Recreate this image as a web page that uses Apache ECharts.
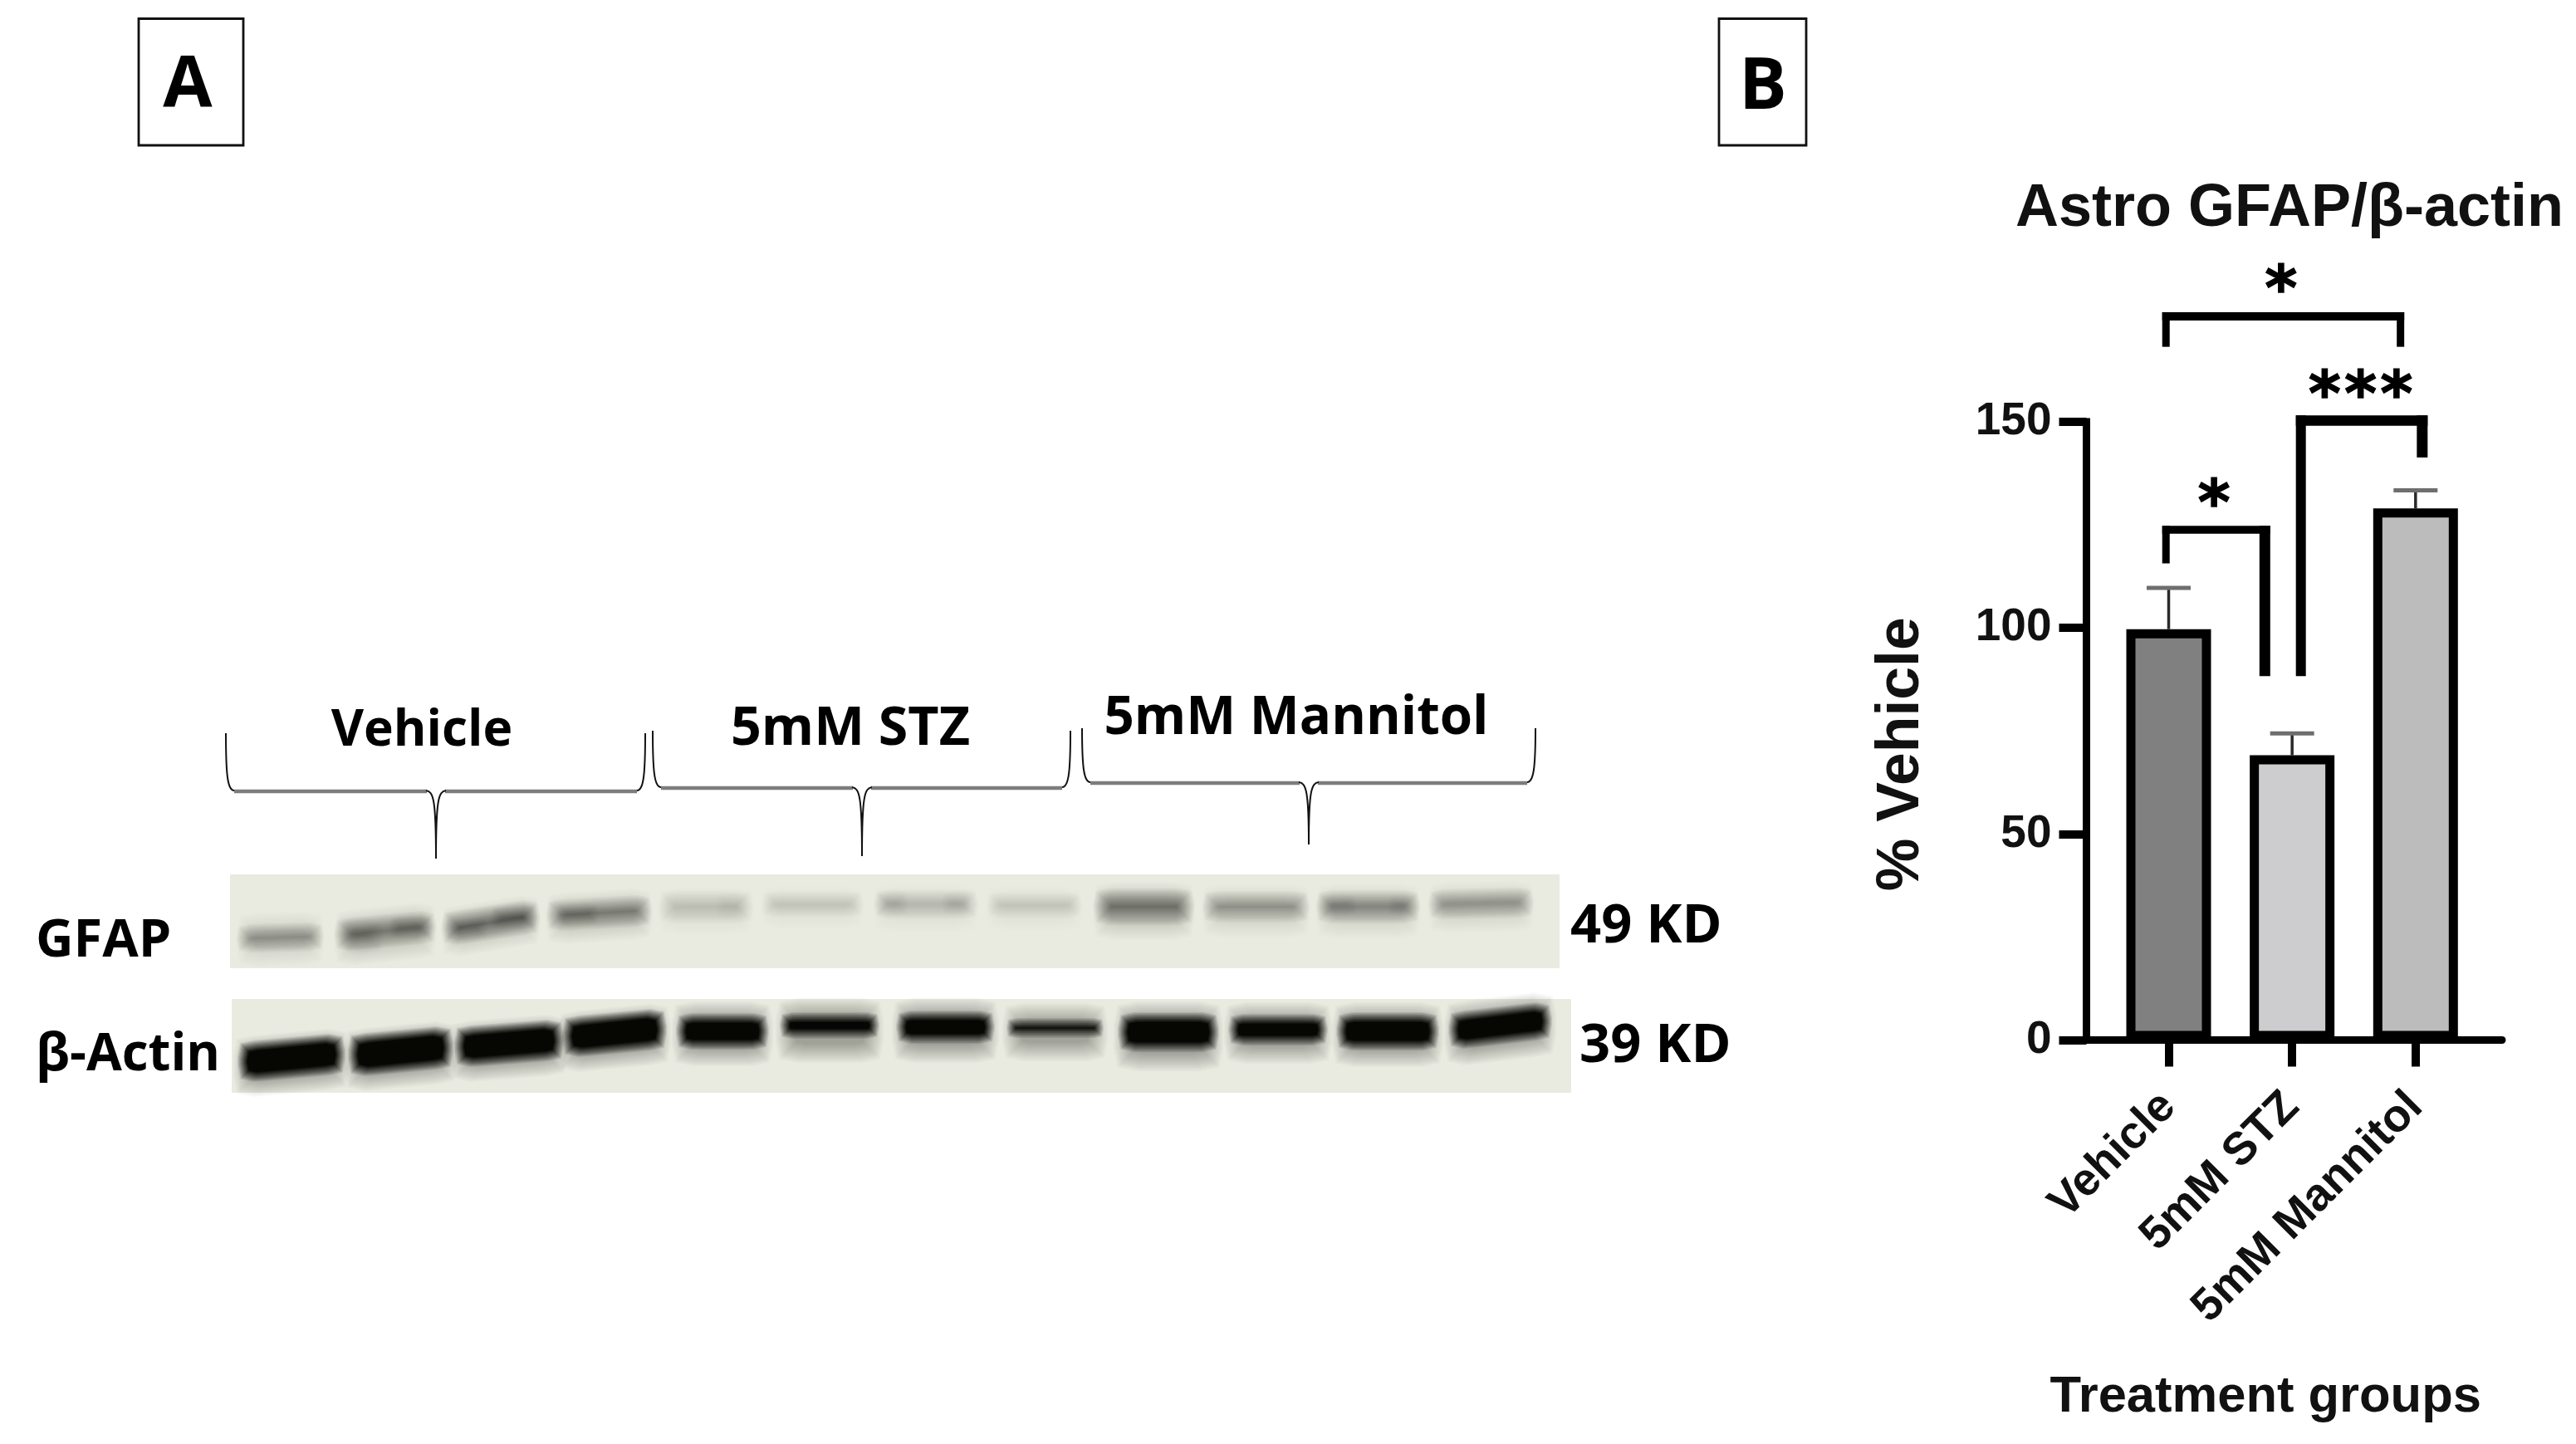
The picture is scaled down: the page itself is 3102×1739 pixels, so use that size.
<!DOCTYPE html>
<html>
<head>
<meta charset="utf-8">
<style>html,body{margin:0;padding:0;background:#fff}#c{width:3102px;height:1739px}</style>
<script src="https://cdn.jsdelivr.net/npm/echarts@6/dist/echarts.min.js"></script>
</head>
<body>
<div id="c"></div>
<script>
// ---------- Panel B data ----------
const categories = ['Vehicle', '5mM STZ', '5mM Mannitol'];
const categoryPositions = [0, 1, 2];
const meanValues = [99.7, 69.1, 129];
const errorTops = [109.7, 74.4, 133.4];
const barColors = ['#808080', '#cdcdcf', '#bcbcbc'];
const yTicks = [0, 50, 100, 150];
// significance brackets, in axis units
const sigLabels = ['*', '***', '*'];
const sigLeft = [-0.022, 1.071, -0.022];
const sigRight = [0.779, 2.054, 1.878];
const sigTop = [123.8, 150.3, 175.6];
const sigLeftFoot = [115.65, 88.3, 168.2];
const sigRightFoot = [88.3, 141.35, 168.2];
const sigTextX = [0.367, 1.555, 0.911];
const sigTextY = [133, 159.3, 184.8];

// ---------- Panel A data (gel image coordinates) ----------
const gelLeft = [277, 279];
const gelRight = [1878, 1892];
const gelTop = [1053, 1203];
const gelBottom = [1166, 1316];
const gfapStart = [295, 413, 542, 668, 803, 927, 1062, 1198, 1327, 1458, 1595, 1730];
const gfapEnd = [380, 515, 640, 775, 897, 1030, 1168, 1293, 1428, 1567, 1700, 1837];
const gfapYL = [1130, 1125, 1117, 1102, 1092, 1089, 1089, 1090, 1092, 1092, 1092, 1089];
const gfapYR = [1128, 1117, 1105, 1097, 1092, 1089, 1089, 1090, 1092, 1092, 1092, 1087];
const gfapThick = [15, 20, 22, 18, 20, 12, 16, 12, 24, 18, 20, 17];
const gfapDensity = [.36, .4, .44, .4, .14, .12, .17, .13, .42, .32, .36, .34];
const gfapHalo = [44, 46, 40, 40, 36, 30, 36, 32, 48, 42, 44, 40];
const gfapHaloShift = [2, 4, 4, 4, 5, 4, 5, 4, 5, 5, 5, 4];
const spotStart = [478, 420, 600, 545, 680, 1063, 1143, 870, 1595, 1680];
const spotEnd = [512, 452, 638, 578, 712, 1085, 1160, 892, 1625, 1700];
const spotYL = [1117, 1127, 1105, 1119, 1102, 1088, 1088, 1091, 1090, 1090];
const spotYR = [1116, 1127, 1104, 1118, 1101, 1088, 1088, 1091, 1090, 1090];
const spotThick = [9, 22, 10, 8, 9, 12, 10, 14, 8, 8];
const spotDensity = [.22, .12, .24, .16, .2, .08, .08, .06, .1, .1];
const actinStart = [292, 425, 553, 683, 820, 945, 1085, 1218, 1352, 1485, 1615, 1750];
const actinEnd = [410, 540, 673, 797, 920, 1053, 1192, 1323, 1462, 1593, 1727, 1863];
const actinYL = [1278, 1270, 1260, 1248, 1242, 1235, 1237, 1238, 1243, 1240, 1242, 1240];
const actinYR = [1270, 1262, 1253, 1240, 1242, 1235, 1237, 1238, 1243, 1240, 1242, 1230];
const actinThick = [38, 40, 38, 38, 32, 20, 28, 12, 36, 26, 34, 34];
const actinDensity = [1, 1, 1, 1, 1, .99, 1, .97, 1, 1, 1, 1];
const actinHalo = [52, 54, 52, 52, 56, 56, 56, 48, 62, 52, 56, 56];
const actinHaloShift = [6, 6, 6, 6, 3, 6, 4, 5, 5, 4, 4, 4];
const braceLeft = [272, 786, 1303];
const braceRight = [777, 1289, 1849];
const braceTip = [525, 1038, 1576];
const braceTop = [883, 880, 877];
const braceBar = [953, 949, 943];
const braceTipY = [1034, 1031, 1017];

// ---------- Render helpers ----------
const sigWidths = [[9, 13, 9.5], [12, 13, 12.5], [9, 9, 10]];
const layers = 12;
function chamfer(api, x0, x1, yL, yR, th, e, c, style) {
  const t = th / 2 + e;
  const k = c * .17;
  const pts = [
    [x0 - e, yL - t + c], [x0 - e + k, yL - t + k], [x0 - e + c, yL - t], [x1 + e - c, yR - t], [x1 + e - k, yR - t + k], [x1 + e, yR - t + c],
    [x1 + e, yR + t - c], [x1 + e - k, yR + t - k], [x1 + e - c, yR + t], [x0 - e + c, yL + t], [x0 - e + k, yL + t - k], [x0 - e, yL + t - c]
  ].map(p => api.coord(p));
  return { type: 'polygon', shape: { points: pts }, style };
}
function bandItem(params, api) {
  const v = i => api.value(i);
  const x0 = v(0), x1 = v(1), yL = v(2), yR = v(3), th = v(4), d = v(5), halo = v(6), shift = v(7);
  const kids = [];
  const put = (sh, thick, density, spread) => {
    let prev = 0;
    for (let i = 0; i < layers; i++) {
      const e = spread - 2 * spread * i / (layers - 1);
      if (thick / 2 + e <= 0.5) continue;
      const target = Math.min(density, .995) * (i + 1) / layers;
      const a = 1 - (1 - target) / (1 - prev);
      prev = target;
      const c = Math.max(1, Math.min((thick / 2 + e) * .9, 8 + thick * .22 + e * .5));
      kids.push(chamfer(api, x0, x1, yL + sh, yR + sh, thick, e, c, { fill: '#050503', opacity: a }));
    }
  };
  if (halo > 0) put(shift, halo, d * .3, 11);
  put(0, th, d, d > .9 ? 6 : 9 + th * .05);
  return { type: 'group', children: kids };
}
function gelItem(params, api) {
  const a = api.coord([api.value(0), api.value(2)]);
  const b = api.coord([api.value(1), api.value(3)]);
  return { type: 'rect', shape: { x: a[0], y: a[1], width: b[0] - a[0], height: b[1] - a[1] }, style: { fill: '#e9ebe0' } };
}
function braceItem(params, api) {
  const L = api.value(0), R = api.value(1), M = api.value(2), T = api.value(3), B = api.value(4), E = api.value(5);
  const P = (x, y) => api.coord([x, y]);
  const curve = (a, c1, c2, b) => {
    const A = P(a[0], a[1]), C = P(c1[0], c1[1]), D = P(c2[0], c2[1]), F = P(b[0], b[1]);
    return { type: 'bezierCurve', shape: { x1: A[0], y1: A[1], cpx1: C[0], cpy1: C[1], cpx2: D[0], cpy2: D[1], x2: F[0], y2: F[1] }, style: { stroke: '#111', lineWidth: 2, fill: null } };
  };
  const bar = (a, b) => {
    const A = P(a, B), F = P(b, B);
    return { type: 'line', shape: { x1: A[0], y1: A[1], x2: F[0], y2: F[1] }, style: { stroke: '#7d7d7d', lineWidth: 4.5 } };
  };
  return { type: 'group', children: [
    bar(L + 10, M - 11), bar(M + 11, R - 10),
    curve([L, T], [L, B - 20], [L + 2, B - 1], [L + 10, B - 1]),
    curve([R, T], [R, B - 20], [R - 2, B - 1], [R - 10, B - 1]),
    curve([M - 12, B - 1], [M - 3, B], [M, B + 10], [M, E]),
    curve([M + 12, B - 1], [M + 3, B], [M, B + 10], [M, E])
  ] };
}
function errorItem(params, api) {
  const x = api.value(0), top = api.coord([x, api.value(1)]), base = api.coord([x, api.value(2)]);
  return { type: 'group', children: [
    { type: 'line', shape: { x1: top[0], y1: top[1], x2: base[0], y2: base[1] }, style: { stroke: '#2a2a2a', lineWidth: 3.5 } },
    { type: 'line', shape: { x1: top[0] - 26.5, y1: top[1], x2: top[0] + 26.5, y2: top[1] }, style: { stroke: '#6e6e6e', lineWidth: 5 } }
  ] };
}
function sigItem(params, api) {
  const i = params.dataIndex, w = sigWidths[i];
  const lx = api.coord([api.value(0), 0])[0], rx = api.coord([api.value(1), 0])[0];
  const ty = api.coord([0, api.value(2)])[1], ly = api.coord([0, api.value(3)])[1], ry = api.coord([0, api.value(4)])[1];
  const rect = (x, y, W, H) => ({ type: 'rect', shape: { x, y, width: W, height: H }, style: { fill: '#000' } });
  const tx = api.coord([sigTextX[i], sigTextY[i]]);
  const glyphs = sigLabels[i].split('').map((g, k, arr) => ({
    type: 'text',
    style: { text: g, x: tx[0] + (k - (arr.length - 1) / 2) * 43.3, y: tx[1] + 19, align: 'center', verticalAlign: 'middle', fontFamily: 'DejaVu Sans', fontWeight: 'bold', fontSize: 74, fill: '#000', stroke: '#000', lineWidth: 1.5 }
  }));
  return { type: 'group', children: [
    rect(lx - w[0] / 2, ty - w[2] / 2, w[0], ly - ty + w[2] / 2),
    rect(rx - w[1] / 2, ty - w[2] / 2, w[1], ry - ty + w[2] / 2),
    rect(lx - w[0] / 2, ty - w[2] / 2, rx - lx + (w[0] + w[1]) / 2, w[2])
  ].concat(glyphs) };
}
const zip = (...a) => a[0].map((_, i) => a.map(x => x[i]));
const noHalo = spotStart.map(() => 0);
const leftText = (text, x, y, size, align) => ({
  type: 'text', silent: true,
  style: { text, x, y, align: align || 'left', verticalAlign: 'middle', fontFamily: 'Open Sans', fontWeight: 'bold', fontSize: size, fill: '#000' }
});
const box = (x, y, w, h) => ({ type: 'rect', shape: { x, y, width: w, height: h }, style: { fill: 'none', stroke: '#111', lineWidth: 2.8 } });

const option = {
  backgroundColor: '#fff',
  animation: false,
  title: {
    text: 'Astro GFAP/\u03b2-actin', left: 2752, top: 211, textAlign: 'center',
    textStyle: { fontFamily: 'Liberation Sans', fontWeight: 'bold', fontSize: 72, color: '#111' }
  },
  grid: [
    { left: 2512.5, top: 508, width: 500.5, height: 744.5, containLabel: false },
    { left: 0, top: 0, width: 3102, height: 1739 }
  ],
  xAxis: [
    {
      type: 'value', gridIndex: 0, min: -0.666, max: 2.701, splitLine: { show: false },
      name: 'Treatment groups', nameLocation: 'middle', nameGap: 400,
      nameTextStyle: { fontFamily: 'Liberation Sans', fontWeight: 'bold', fontSize: 61.5, color: '#111', padding: [0, 69, 0, 0] },
      axisLine: { show: true, onZero: false, lineStyle: { color: '#000', width: 9 } },
      axisTick: { show: true, length: 32, customValues: categoryPositions, lineStyle: { color: '#000', width: 10 } },
      axisLabel: {
        customValues: categoryPositions, rotate: 45, margin: 72, interval: 0,
        formatter: v => categories[Math.round(v)] || '',
        fontFamily: 'Liberation Sans', fontWeight: 'bold', fontSize: 55, color: '#111'
      }
    },
    { type: 'value', gridIndex: 1, min: 0, max: 3102, show: false }
  ],
  yAxis: [
    {
      type: 'value', gridIndex: 0, min: 0, max: 150, interval: 50, splitLine: { show: false },
      name: '% Vehicle', nameLocation: 'middle', nameGap: 186, nameRotate: 90,
      nameTextStyle: { fontFamily: 'Liberation Sans', fontWeight: 'bold', fontSize: 71.5, color: '#111', padding: [0, 56, 0, 0] },
      axisLine: { show: true, onZero: false, lineStyle: { color: '#000', width: 9, cap: 'square' } },
      axisTick: { show: true, length: 33, lineStyle: { color: '#000', width: 10 } },
      axisLabel: { margin: 42, fontFamily: 'Liberation Sans', fontWeight: 'bold', fontSize: 55, color: '#111', customValues: yTicks }
    },
    { type: 'value', gridIndex: 1, min: 0, max: 1739, inverse: true, show: false }
  ],
  series: [
    { type: 'custom', name: 'gel', xAxisIndex: 1, yAxisIndex: 1, coordinateSystem: 'cartesian2d', renderItem: gelItem, data: zip(gelLeft, gelRight, gelTop, gelBottom), z: 1, silent: true },
    { type: 'custom', name: 'GFAP', xAxisIndex: 1, yAxisIndex: 1, renderItem: bandItem, data: zip(gfapStart, gfapEnd, gfapYL, gfapYR, gfapThick, gfapDensity, gfapHalo, gfapHaloShift), z: 2, silent: true },
    { type: 'custom', name: 'GFAP spots', xAxisIndex: 1, yAxisIndex: 1, renderItem: bandItem, data: zip(spotStart, spotEnd, spotYL, spotYR, spotThick, spotDensity, noHalo, noHalo), z: 2, silent: true },
    { type: 'custom', name: '\u03b2-Actin', xAxisIndex: 1, yAxisIndex: 1, renderItem: bandItem, data: zip(actinStart, actinEnd, actinYL, actinYR, actinThick, actinDensity, actinHalo, actinHaloShift), z: 2, silent: true },
    { type: 'custom', name: 'braces', xAxisIndex: 1, yAxisIndex: 1, renderItem: braceItem, data: zip(braceLeft, braceRight, braceTip, braceTop, braceBar, braceTipY), z: 3, silent: true },
    {
      type: 'bar', name: 'Astro GFAP/\u03b2-actin', xAxisIndex: 0, yAxisIndex: 0, barWidth: 102, z: 4, silent: true,
      data: meanValues.map((v, i) => ({
        value: [categoryPositions[i], v],
        itemStyle: { color: barColors[i], borderColor: '#000', borderWidth: 11 }
      }))
    },
    { type: 'custom', name: 'error', xAxisIndex: 0, yAxisIndex: 0, renderItem: errorItem, data: zip(categoryPositions, errorTops, meanValues), z: 3, silent: true },
    { type: 'custom', name: 'significance', xAxisIndex: 0, yAxisIndex: 0, renderItem: sigItem, data: zip(sigLeft, sigRight, sigTop, sigLeftFoot, sigRightFoot), z: 5, silent: true, clip: false }
  ],
  graphic: { elements: [
    box(167, 22.5, 126, 152.5),
    box(2070, 22.5, 105, 152.5),
    leftText('A', 226, 104, 86, 'center'),
    leftText('B', 2123, 106, 86, 'center'),
    leftText('Vehicle', 508, 881, 60.5, 'center'),
    leftText('5mM STZ', 1024, 879, 64.5, 'center'),
    leftText('5mM Mannitol', 1561, 866, 63.6, 'center'),
    leftText('GFAP', 43, 1134, 63),
    leftText('\u03b2-Actin', 43, 1271, 62),
    leftText('49 KD', 1891, 1116, 65),
    leftText('39 KD', 1902, 1260, 65)
  ] }
};
const chart = echarts.init(document.getElementById('c'), null, { renderer: 'canvas', width: 3102, height: 1739 });
chart.setOption(option);
</script>
</body>
</html>
